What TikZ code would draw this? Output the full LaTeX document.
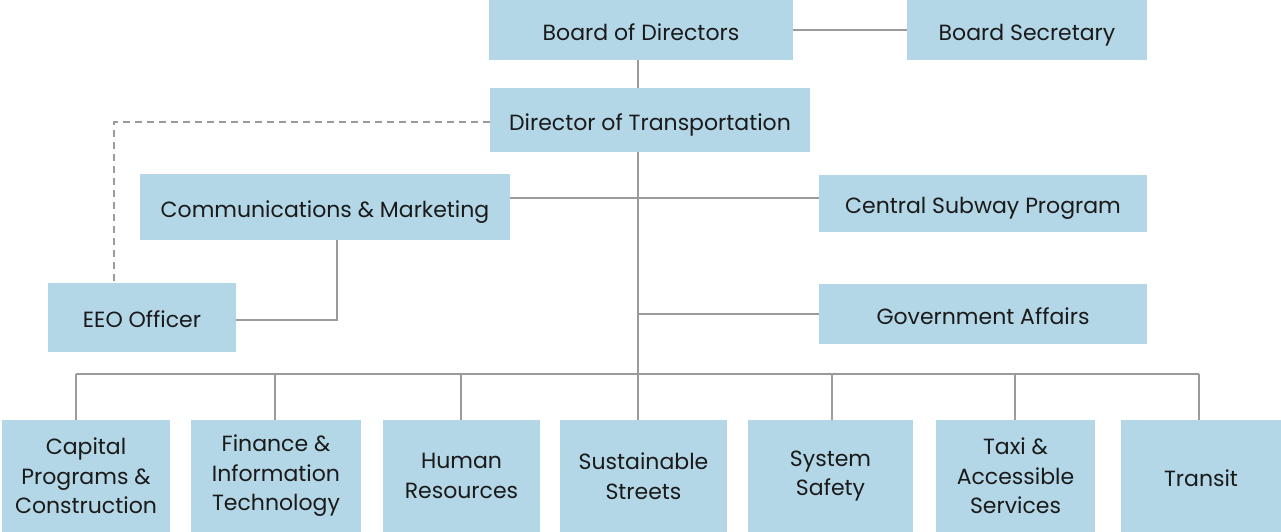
\documentclass[tikz,border=0pt]{standalone}
\usepackage{fontspec}
\setmainfont{Poppins}
\definecolor{boxblue}{HTML}{B3D7E6}
\definecolor{linegray}{HTML}{9B9B9D}
\definecolor{txt}{HTML}{1A1A1A}
\begin{document}
\begin{tikzpicture}[x=1pt,y=-1pt,
  box/.style={fill=boxblue,draw=none,inner sep=0pt,text=txt,align=center,
    font=\fontsize{22}{29.5}\selectfont},
  single/.style={box,text height=20pt,text depth=0pt},
  conn/.style={draw=linegray,line width=2.6pt},
  dconn/.style={conn,dash pattern=on 7pt off 5pt}]
\useasboundingbox (0,0) rectangle (1281,531);
\begin{scope}
\clip (0,0) rectangle (1281,531);
\node[single,minimum width=304pt,minimum height=60pt] (bod) at (641,30) {Board of Directors};
\node[single,minimum width=240pt,minimum height=60pt] (bs) at (1027,30) {Board Secretary};
\node[single,minimum width=320pt,minimum height=64pt] (dot) at (650,120) {Director of Transportation};
\node[single,minimum width=370pt,minimum height=66pt] (cm) at (325,207) {Communications \& Marketing};
\node[single,minimum width=328pt,minimum height=57pt] (csp) at (983,203.5) {Central Subway Program};
\node[single,minimum width=188pt,minimum height=69pt] (eeo) at (142,317.5) {EEO Officer};
\node[single,minimum width=328pt,minimum height=60pt] (ga) at (983,314) {Government Affairs};
\node[box,minimum width=168pt,minimum height=112pt] (cap) at (86,476) {Capital\\Programs \&\\Construction};
\node[box,minimum width=170pt,minimum height=112pt] (fin) at (276,476) {Finance \&\\Information\\Technology};
\node[box,minimum width=157pt,minimum height=112pt] (hr) at (461.5,476) {Human\\Resources};
\node[box,minimum width=167pt,minimum height=112pt] (ss) at (643.5,476) {Sustainable\\Streets};
\node[box,minimum width=165pt,minimum height=112pt] (sys) at (830.5,476) {System\\Safety};
\node[box,minimum width=159pt,minimum height=112pt] (taxi) at (1015.5,476) {Taxi \&\\Accessible\\Services};
\node[single,minimum width=160pt,minimum height=112pt] (tr) at (1201,476) {Transit};
\end{scope}
\coordinate (spine) at (638,0);
\coordinate (dash) at (114,122);
\draw[conn] (bod.east |- 0,30) -- (bs.west |- 0,30);
\draw[conn] (bod.south -| spine) -- (dot.north -| spine);
\draw[conn] (dot.south -| spine) -- (ss.north -| spine);
\draw[conn] (cm.east |- 0,198) -- (csp.west |- 0,198);
\draw[conn] (spine |- ga.west) -- (ga.west);
\draw[conn] (eeo.east |- 0,320) -| (cm.south -| 337,0);
\draw[dconn] (dot.west |- dash) -- (dash) -- (eeo.north -| dash);
\draw[conn] (76,374) -- (1199,374);
\foreach \n/\x in {cap/76,fin/275,hr/461,sys/832,taxi/1015,tr/1199}
  \draw[conn] (\x,374) -- (\n.north -| \x,0);
\end{tikzpicture}
\end{document}
